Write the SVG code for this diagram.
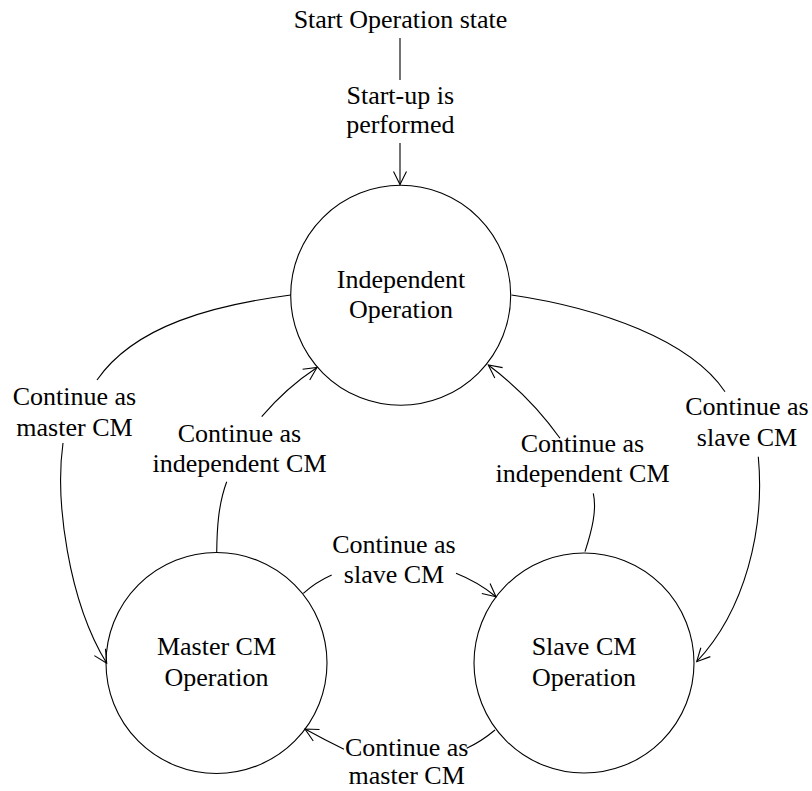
<svg xmlns="http://www.w3.org/2000/svg" width="812" height="791" viewBox="0 0 812 791">
  <style>
    .state { fill: #ffffff; stroke: #000000; stroke-width: 1.1; }
    .lbl { font-family: "Liberation Serif", "Times New Roman", serif; font-size: 26px; fill: #000000; text-anchor: middle; }
    .edge { fill: none; stroke: #000000; stroke-width: 1.1; }
  </style>
  <defs>
    <marker id="arrow" markerUnits="userSpaceOnUse" markerWidth="20" markerHeight="20" viewBox="-15 -10 20 20" refX="0" refY="0" orient="auto">
      <path d="M-13,-6.5 L0,0 L-13,6.5" fill="none" stroke="#000000" stroke-width="1.1"/>
    </marker>
  </defs>

  <rect width="812" height="791" fill="#ffffff"/>

  <!-- state nodes -->
  <g id="independent">
    <circle class="state" cx="400.7" cy="295.3" r="110"/>
    <text class="lbl" x="401" y="288">Independent</text>
    <text class="lbl" x="401" y="318">Operation</text>
  </g>
  <g id="master">
    <circle class="state" cx="216.5" cy="663" r="110.5"/>
    <text class="lbl" x="216.5" y="655">Master CM</text>
    <text class="lbl" x="216.5" y="686">Operation</text>
  </g>
  <g id="slave">
    <circle class="state" cx="584" cy="663" r="110"/>
    <text class="lbl" x="584" y="655">Slave CM</text>
    <text class="lbl" x="584" y="686">Operation</text>
  </g>
  <g id="start">
    <text class="lbl" x="400.5" y="28">Start Operation state</text>
  </g>

  <!-- transitions -->
  <g id="connectors">
    <!-- start-up -->
    <path class="edge" d="M400,38 L400,80"/>
    <path class="edge" d="M400,143 L400,184.5" marker-end="url(#arrow)"/>
    <text class="lbl" x="400.3" y="104">Start-up is</text>
    <text class="lbl" x="400.3" y="133">performed</text>

    <!-- independent to master -->
    <path class="edge" d="M290.8,295 C215,305 135,325 97,380"/>
    <path class="edge" d="M63,443 C55,500 68,600 106.7,663.3" marker-end="url(#arrow)"/>
    <text class="lbl" x="74.5" y="405">Continue as</text>
    <text class="lbl" x="74.5" y="436">master CM</text>

    <!-- master to independent -->
    <path class="edge" d="M216.7,552.7 C217,530 218,505 226.7,481.7"/>
    <path class="edge" d="M261.7,416.7 C280,395 298,380 317,367.5" marker-end="url(#arrow)"/>
    <text class="lbl" x="239.5" y="442">Continue as</text>
    <text class="lbl" x="239.5" y="472">independent CM</text>

    <!-- independent to slave -->
    <path class="edge" d="M511.5,295 C600,308 690,340 725,391.7"/>
    <path class="edge" d="M758.3,456.7 C765,530 745,610 696.7,661.7" marker-end="url(#arrow)"/>
    <text class="lbl" x="747" y="415">Continue as</text>
    <text class="lbl" x="747" y="446">slave CM</text>

    <!-- slave to independent -->
    <path class="edge" d="M585,551.7 C592,530 597,510 593.3,493.3"/>
    <path class="edge" d="M560,438.3 C540,410 515,385 488.3,365" marker-end="url(#arrow)"/>
    <text class="lbl" x="582.5" y="452">Continue as</text>
    <text class="lbl" x="582.5" y="482">independent CM</text>

    <!-- master to slave -->
    <path class="edge" d="M303.3,593.3 Q316,582 331.7,575"/>
    <path class="edge" d="M456,573.3 Q478,582 496,596.7" marker-end="url(#arrow)"/>
    <text class="lbl" x="394" y="553">Continue as</text>
    <text class="lbl" x="394" y="583">slave CM</text>

    <!-- slave to master -->
    <path class="edge" d="M495,730 Q482,741 466.7,748.3"/>
    <path class="edge" d="M344,749.3 Q325,740 305,729" marker-end="url(#arrow)"/>
    <text class="lbl" x="406.7" y="756">Continue as</text>
    <text class="lbl" x="406.7" y="784">master CM</text>
  </g>
</svg>
